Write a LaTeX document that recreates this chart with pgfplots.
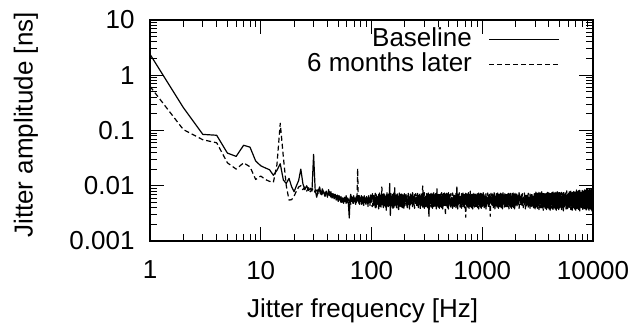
\documentclass[border=0pt]{standalone}
\usepackage{fontspec}
\setmainfont{Liberation Sans}
\usepackage{pgfplots}
\usepackage{pgfplotstable}
\pgfplotsset{compat=1.18}
\pgfplotstableread{
f b m
1 2.4 0.63
2 0.26 0.104
3 0.085 0.068
4 0.082 0.060
5 0.039 0.026
6 0.034 0.020
7 0.054 0.026
8 0.050 0.022
9 0.028 0.013
10 0.023 0.015
11 0.021 0.013
12 0.0195 0.012
13 0.0155 0.0115
14 0.019 0.024
15 0.025 0.135
16 0.0127 0.033
17 0.011 0.010
18 0.0136 0.0055
19 0.0096 0.0056
20 0.0078 0.0065
21 0.0100 0.0080
22 0.0125 0.0095
23 0.0200 0.0100
24 0.0110 0.0085
25 0.0085 0.0095
26 0.0100 0.0080
27 0.0082 0.0092
28 0.0090 0.0078
29 0.0080 0.0085
30 0.0370 0.0090
31 0.0085 0.0075
32 0.0062 0.0090
33 0.0080 0.0070
34 0.0095 0.0082
35 0.0070 0.0065
36 0.0088 0.0072
37 0.0075 0.0085
38 0.0068 0.0060
39 0.0080 0.0078
40 0.0062 0.0070
41 0.0085 0.0068
42 0.0066 0.0080
43 0.0078 0.0062
44 0.0060 0.0074
45 0.0072 0.0058
46 0.0058 0.0070
47 0.0070 0.0062
48 0.0055 0.0068
49 0.0068 0.0054
50 0.0052 0.0066
51 0.0066 0.0058
52 0.0054 0.0062
53 0.0064 0.0050
54 0.0050 0.0060
55 0.0060 0.0056
56 0.0048 0.0064
57 0.0062 0.0052
58 0.0054 0.0058
59 0.0066 0.0048
60 0.0050 0.0060
61 0.0060 0.0054
62 0.0044 0.0062
63 0.0026 0.0050
64 0.0058 0.0058
65 0.0070 0.0046
66 0.0052 0.0064
67 0.0062 0.0052
68 0.0048 0.0060
69 0.0066 0.0048
70 0.0054 0.0058
71 0.0060 0.0052
72 0.0046 0.0062
73 0.0064 0.0050
74 0.0052 0.0060
75 0.0058 0.0205
76 0.0062 0.0052
77 0.0048 0.0064
78 0.0066 0.0046
79 0.0052 0.0060
80 0.0060 0.0050
81 0.0046 0.0066
82 0.0064 0.0048
83 0.0050 0.0058
84 0.0062 0.0044
85 0.0044 0.0062
86 0.0066 0.0052
87 0.0050 0.0060
88 0.0058 0.0046
89 0.0046 0.0064
90 0.0064 0.0050
91 0.0052 0.0058
92 0.0060 0.0044
93 0.0042 0.0062
94 0.0066 0.0050
95 0.0050 0.0060
96 0.0058 0.0046
97 0.0044 0.0066
98 0.0068 0.0050
99 0.0050 0.0058
100 0.0060 0.0044
102 0.0072 0.0042
104 0.0044 0.0068
106 0.0066 0.0045
108 0.0040 0.0073
110 0.0070 0.0040
112 0.0046 0.0064
114 0.0062 0.0048
116 0.0038 0.0070
118 0.0074 0.0044
120 0.0042 0.0066
122 0.0068 0.0041
124 0.0045 0.0095
126 0.0064 0.0046
128 0.0040 0.0071
130 0.0071 0.0043
132 0.0047 0.0065
134 0.0063 0.0039
136 0.0036 0.0069
138 0.0075 0.0045
140 0.0043 0.0067
142 0.0069 0.0042
144 0.0044 0.0072
146 0.0110 0.0047
148 0.0029 0.0063
150 0.0072 0.0041
152 0.0048 0.0066
154 0.0061 0.0044
156 0.0039 0.0074
158 0.0073 0.0040
160 0.0041 0.0068
162 0.0092 0.0046
164 0.0046 0.0070
166 0.0067 0.0043
168 0.0040 0.0064
170 0.0070 0.0048
172 0.0045 0.0071
174 0.0064 0.0038
176 0.0037 0.0067
178 0.0074 0.0044
180 0.0043 0.0069
182 0.0066 0.0042
184 0.0047 0.0073
186 0.0071 0.0045
188 0.0041 0.0062
190 0.0068 0.0040
192 0.0044 0.0070
194 0.0063 0.0047
196 0.0039 0.0066
198 0.0072 0.0043
200 0.0046 0.0068
205 0.0070 0.0044
210 0.0040 0.0066
215 0.0073 0.0046
220 0.0038 0.0063
225 0.0071 0.0043
230 0.0047 0.0068
235 0.0075 0.0041
240 0.0045 0.0064
245 0.0069 0.0039
250 0.0048 0.0072
255 0.0062 0.0042
260 0.0044 0.0074
265 0.0067 0.0040
270 0.0046 0.0070
275 0.0066 0.0038
280 0.0043 0.0073
285 0.0063 0.0047
290 0.0041 0.0099
295 0.0068 0.0045
300 0.0039 0.0075
305 0.0064 0.0048
310 0.0042 0.0069
315 0.0072 0.0044
320 0.0040 0.0062
325 0.0074 0.0046
330 0.0028 0.0067
335 0.0070 0.0043
340 0.0047 0.0066
345 0.0073 0.0041
350 0.0045 0.0063
355 0.0071 0.0039
360 0.0048 0.0068
365 0.0075 0.0042
370 0.0044 0.0064
375 0.0069 0.0040
380 0.0046 0.0072
385 0.0062 0.0038
390 0.0043 0.0088
395 0.0067 0.0047
400 0.0041 0.0070
405 0.0066 0.0045
410 0.0039 0.0073
415 0.0063 0.0048
420 0.0042 0.0071
425 0.0068 0.0044
430 0.0040 0.0075
435 0.0064 0.0046
440 0.0038 0.0069
445 0.0072 0.0043
450 0.0047 0.0062
455 0.0074 0.0041
460 0.0045 0.0067
465 0.0070 0.0029
470 0.0048 0.0066
475 0.0073 0.0042
480 0.0044 0.0063
485 0.0071 0.0040
490 0.0046 0.0068
495 0.0075 0.0038
500 0.0043 0.0064
510 0.0069 0.0047
520 0.0041 0.0072
530 0.0062 0.0045
540 0.0039 0.0074
550 0.0067 0.0048
560 0.0042 0.0070
570 0.0066 0.0044
580 0.0040 0.0073
590 0.0095 0.0046
600 0.0038 0.0071
610 0.0068 0.0043
620 0.0047 0.0075
630 0.0064 0.0041
640 0.0045 0.0069
650 0.0072 0.0039
660 0.0048 0.0062
670 0.0074 0.0042
680 0.0044 0.0067
690 0.0070 0.0040
700 0.0046 0.0066
710 0.0073 0.0027
720 0.0043 0.0063
730 0.0071 0.0047
740 0.0041 0.0068
750 0.0075 0.0045
760 0.0039 0.0064
770 0.0069 0.0048
780 0.0042 0.0080
790 0.0062 0.0044
800 0.0040 0.0074
810 0.0067 0.0046
820 0.0038 0.0070
830 0.0066 0.0043
840 0.0047 0.0073
850 0.0063 0.0041
860 0.0045 0.0071
870 0.0068 0.0039
880 0.0048 0.0075
890 0.0064 0.0042
900 0.0044 0.0069
910 0.0072 0.0040
920 0.0046 0.0062
930 0.0074 0.0038
940 0.0043 0.0067
950 0.0070 0.0047
960 0.0041 0.0066
970 0.0073 0.0045
980 0.0039 0.0063
990 0.0071 0.0048
1000 0.0042 0.0068
1020 0.0075 0.0044
1040 0.0040 0.0064
1060 0.0069 0.0046
1080 0.0038 0.0072
1100 0.0062 0.0043
1120 0.0047 0.0074
1140 0.0067 0.0041
1160 0.0045 0.0070
1180 0.0066 0.0028
1200 0.0048 0.0073
1220 0.0063 0.0042
1240 0.0044 0.0071
1260 0.0068 0.0040
1280 0.0046 0.0075
1300 0.0064 0.0038
1320 0.0043 0.0069
1340 0.0072 0.0047
1360 0.0041 0.0062
1380 0.0074 0.0045
1400 0.0039 0.0067
1420 0.0070 0.0048
1440 0.0042 0.0066
1460 0.0073 0.0044
1480 0.0040 0.0063
1500 0.0071 0.0046
1520 0.0038 0.0068
1540 0.0075 0.0043
1560 0.0047 0.0064
1580 0.0069 0.0041
1600 0.0045 0.0072
1620 0.0062 0.0039
1640 0.0048 0.0074
1660 0.0067 0.0042
1680 0.0044 0.0070
1700 0.0066 0.0040
1720 0.0046 0.0073
1740 0.0063 0.0038
1760 0.0043 0.0071
1780 0.0068 0.0047
1800 0.0041 0.0075
1820 0.0064 0.0045
1840 0.0039 0.0069
1860 0.0072 0.0048
1880 0.0042 0.0062
1900 0.0074 0.0044
1920 0.0040 0.0067
1940 0.0070 0.0046
1960 0.0038 0.0066
1980 0.0073 0.0043
2000 0.0047 0.0063
2050 0.0071 0.0041
2100 0.0045 0.0068
2150 0.0075 0.0039
2200 0.0048 0.0064
2250 0.0069 0.0042
2300 0.0044 0.0072
2350 0.0062 0.0040
2400 0.0046 0.0074
2450 0.0067 0.0038
2500 0.0043 0.0070
2550 0.0066 0.0047
2600 0.0041 0.0073
2650 0.0063 0.0045
2700 0.0039 0.0071
2750 0.0068 0.0048
2800 0.0042 0.0075
2850 0.0064 0.0044
2900 0.0040 0.0069
2950 0.0072 0.0046
3000 0.0038 0.0062
3050 0.0077 0.0041
3100 0.0045 0.0070
3150 0.0073 0.0039
3200 0.0043 0.0069
3250 0.0076 0.0037
3300 0.0046 0.0066
3350 0.0074 0.0040
3400 0.0042 0.0071
3450 0.0078 0.0038
3500 0.0044 0.0067
3550 0.0072 0.0036
3600 0.0041 0.0075
3650 0.0065 0.0045
3700 0.0039 0.0077
3750 0.0070 0.0043
3800 0.0037 0.0073
3850 0.0069 0.0046
3900 0.0040 0.0076
3950 0.0066 0.0042
4000 0.0038 0.0074
4050 0.0071 0.0044
4100 0.0036 0.0078
4150 0.0067 0.0041
4200 0.0045 0.0072
4250 0.0075 0.0039
4300 0.0043 0.0065
4350 0.0077 0.0037
4400 0.0046 0.0070
4450 0.0073 0.0040
4500 0.0042 0.0069
4550 0.0076 0.0038
4600 0.0044 0.0066
4650 0.0074 0.0036
4700 0.0041 0.0071
4750 0.0078 0.0045
4800 0.0039 0.0067
4850 0.0072 0.0043
4900 0.0037 0.0075
4950 0.0065 0.0046
5000 0.0040 0.0077
5100 0.0073 0.0041
5200 0.0037 0.0076
5300 0.0072 0.0043
5400 0.0035 0.0079
5500 0.0069 0.0040
5600 0.0044 0.0077
5700 0.0074 0.0038
5800 0.0042 0.0081
5900 0.0070 0.0036
6000 0.0045 0.0075
6100 0.0078 0.0039
6200 0.0041 0.0068
6300 0.0080 0.0037
6400 0.0043 0.0073
6500 0.0076 0.0035
6600 0.0040 0.0072
6700 0.0079 0.0044
6800 0.0038 0.0069
6900 0.0077 0.0042
7000 0.0036 0.0074
7100 0.0084 0.0045
7200 0.0039 0.0073
7300 0.0078 0.0041
7400 0.0037 0.0081
7500 0.0071 0.0043
7600 0.0035 0.0083
7700 0.0076 0.0040
7800 0.0044 0.0079
7900 0.0075 0.0038
8000 0.0042 0.0082
8100 0.0072 0.0036
8200 0.0045 0.0080
8300 0.0077 0.0039
8400 0.0041 0.0084
8500 0.0073 0.0037
8600 0.0043 0.0082
8700 0.0085 0.0035
8800 0.0040 0.0075
8900 0.0087 0.0044
9000 0.0038 0.0080
9100 0.0083 0.0042
9200 0.0036 0.0079
9300 0.0086 0.0045
9400 0.0039 0.0076
9500 0.0084 0.0041
9600 0.0037 0.0081
9700 0.0088 0.0043
9800 0.0035 0.0077
9900 0.0082 0.0040
10000 0.0044 0.0085
}\jitter
\begin{document}
\begin{tikzpicture}
\begin{axis}[
  scale only axis,
  width=221.5pt, height=110.5pt,
  xmode=log, ymode=log,
  xmin=1, xmax=10000, ymin=0.001, ymax=10,
  font=\fontsize{13}{15}\selectfont,
  /pgf/number format/assume math mode=true,
  axis line style={line width=0.9pt},
  tick align=inside,
  major tick length=7pt, minor tick length=3.5pt,
  every tick/.style={black, line width=0.5pt},
  xtick={1,10,100,1000,10000},
  xticklabels={1,10,100,1000,10000},
  minor xtick={2,3,4,5,6,7,8,9,20,30,40,50,60,70,80,90,200,300,400,500,600,700,800,900,2000,3000,4000,5000,6000,7000,8000,9000},
  ytick={0.001,0.01,0.1,1,10},
  yticklabels={0.001,0.01,0.1,1,10},
  minor ytick={0.002,0.003,0.004,0.005,0.006,0.007,0.008,0.009,0.02,0.03,0.04,0.05,0.06,0.07,0.08,0.09,0.2,0.3,0.4,0.5,0.6,0.7,0.8,0.9,2,3,4,5,6,7,8,9},
  xticklabel style={yshift=-6.4pt},
  yticklabel style={xshift=-4.2pt},
  xlabel={Jitter frequency [Hz]},
  ylabel={Jitter amplitude [ns]},
  xlabel style={at={(axis description cs:0.48,-0.317)}, anchor=center},
  ylabel style={at={(axis description cs:-0.28,0.525)}, anchor=center},
  legend plot pos=right,
  legend cell align=right,
  legend image code/.code={\draw[#1] (0pt,0pt) -- (35pt,0pt);},
  legend style={at={(axis description cs:1,1)}, anchor=north east,
    xshift=-16.5pt, yshift=-3.25pt, draw=none, fill=none, inner sep=0pt,
    column sep=8pt, row sep=0pt,
    nodes={inner sep=0.25pt, text height=9.5pt, text depth=2.5pt}},
]
\addplot[black, line width=0.6pt, line join=round] table[x=f, y=b] {\jitter};
\addlegendentry{Baseline}
\addplot[black, line width=0.6pt, line join=round, dash pattern=on 2.5pt off 1.5pt] table[x=f, y=m] {\jitter};
\addlegendentry{6 months later}
\end{axis}
\pgfresetboundingbox
\path[use as bounding box] (-75pt,-41pt) rectangle (244.5pt,120.5pt);
\end{tikzpicture}
\end{document}
